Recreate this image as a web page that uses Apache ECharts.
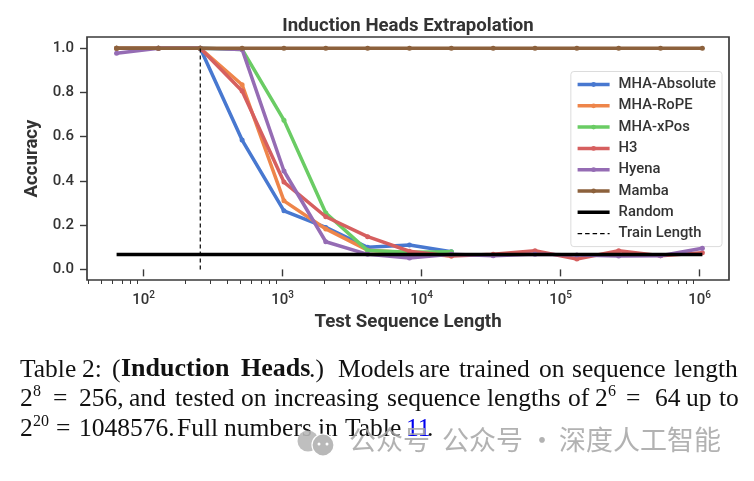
<!DOCTYPE html>
<html><head><meta charset="utf-8">
<style>html,body{margin:0;padding:0;background:#fff}#c{width:754px;height:481px}</style>
<script src="https://cdn.jsdelivr.net/npm/echarts@6/dist/echarts.min.js"></script>
</head><body><div id="c"></div>
<script>
const lengths=[64,128,256,512,1024,2048,4096,8192,16384,32768,65536,131072,262144,524288,1048576];
const mhaAbsolute=[1,1,1,0.585,0.265,0.19,0.1,0.11,0.08];
const mhaRope=[1,1,1,0.835,0.31,0.183,0.087,0.075,0.06];
const mhaXpos=[1,1,1,0.995,0.675,0.255,0.085,0.078,0.08];
const h3=[1,1,1,0.807,0.395,0.238,0.148,0.082,0.06,0.068,0.084,0.047,0.084,0.062,0.075];
const hyena=[0.977,1,1,0.995,0.445,0.125,0.068,0.052,0.068,0.062,0.068,0.065,0.06,0.062,0.096];
const mamba=[1,1,1,1,1,1,1,1,1,1,1,1,1,1,1];
const randomLevel=[0.067,0.067];
const randomX=[64,1048576];
const trainX=[256,256];
const trainY=[0,1];
const xMajor=[100,1000,10000,100000,1000000];
const xMinor=[40,50,60,70,80,90,200,300,400,500,600,700,800,900,2000,3000,4000,5000,6000,7000,8000,9000,20000,30000,40000,50000,60000,70000,80000,90000,200000,300000,400000,500000,600000,700000,800000,900000];
const yTicks=[0,0.2,0.4,0.6,0.8,1.0];
const names=['MHA-Absolute','MHA-RoPE','MHA-xPos','H3','Hyena','Mamba','Random','Train Length'];
const colors=['#4878d0','#ee854a','#6acc64','#d65f5f','#956cb4','#8c613c','#000000','#000000'];
const valueSets=[mhaAbsolute,mhaRope,mhaXpos,h3,hyena,mamba];
const SANS='Roboto, sans-serif', SERIF='"Liberation Serif", serif';
const INK='#333333';

const series=valueSets.map((vals,i)=>({
  name:names[i],type:'line',xAxisIndex:0,yAxisIndex:0,
  data:vals.map((v,j)=>[lengths[j],v]),
  symbol:'circle',symbolSize:5,showSymbol:true,
  lineStyle:{width:3.5,color:colors[i]},itemStyle:{color:colors[i]},
  animation:false,z:3+i,emphasis:{disabled:true}
}));
series.push({name:names[6],type:'line',data:randomX.map((x,j)=>[x,randomLevel[j]]),symbol:'none',
  lineStyle:{width:3.5,color:'#000'},itemStyle:{color:'#000'},animation:false,z:12});
series.push({name:names[7],type:'line',data:trainX.map((x,j)=>[x,trainY[j]]),symbol:'none',
  lineStyle:{width:1.2,color:'#000',type:[4,3]},itemStyle:{color:'#000'},animation:false,z:13});

const legendData=names.map((n,i)=>{
  if(i<6) return {name:n};
  return {name:n,itemStyle:{color:'rgba(0,0,0,0)',opacity:0},
    lineStyle:i===6?{width:3.5,color:'#000'}:{width:1.2,color:'#000',type:[4.5,3]}};
});

const baselines=[377,406,436];
const capWords=[
 ['Table',20,0],['2:',82,0],['(',112,0],['Induction',121,0,'b'],['Heads',241,0,'b'],['.)',309,0],['Models',338,0],['are',419,0],['trained',459,0],['on',539,0],['sequence',572,0],['length',674,0],
 ['2',20,1],['8',33,1,'s'],['=',53,1],['256,',79,1],['and',129,1],['tested',175,1],['on',241,1],['increasing',274,1],['sequence',387,1],['lengths',487,1],['of',568,1],['2',595,1],['6',608,1,'s'],['=',626,1],['64',655,1],['up',686,1],['to',719,1],
 ['2',20,2],['20',33,2,'s'],['=',56,2],['1048576.',79,2],['Full',177,2],['numbers',224,2],['in',318,2],['Table',345,2],['11',406,2,'l'],['.',427,2]
];
const capGraphics=capWords.map(([t,x,l,k])=>{
  const sup=k==='s', size=sup?16:(k==='b'?26:25.5);
  return {type:'text',x,y:baselines[l]-(sup?9:0)-Math.round(size*0.8),z:50,style:{text:t,
    fontFamily:SERIF,fontSize:size,fontWeight:k==='b'?'bold':'normal',
    fill:k==='l'?'#0000ee':'#111'}};
});
const wm=[['公众号',349],['公众号',442],['·',528.5],['深度人工智能',559]].map(([t,x])=>({type:'text',x,y:426,z:62,
  style:{text:t,fontFamily:'"Noto Sans CJK SC"',fontSize:27,fill:'rgba(165,165,165,0.85)'}}));

const option={
  animation:false,backgroundColor:'#fff',
  title:{text:'Induction Heads Extrapolation',left:403,top:12,textAlign:'center',
    textStyle:{fontFamily:SANS,fontSize:18.6,fontWeight:'bold',color:INK}},
  grid:{left:87,right:25,top:37,height:243,show:true,borderColor:'#3a3a3a',borderWidth:1.7,backgroundColor:'#fff'},
  legend:{right:32,top:71.5,orient:'vertical',itemWidth:32,itemHeight:6,itemGap:5.3,padding:[5,6,5,5],itemSymbolKeepAspect:true,
    backgroundColor:'#fff',borderColor:'#dcdcdc',borderWidth:1,borderRadius:3,data:legendData,
    lineStyle:{width:3.5},
    textStyle:{fontFamily:SANS,fontSize:14.8,fontWeight:500,color:INK,lineHeight:16,padding:[0,0,0,4]}},
  xAxis:[{type:'log',logBase:10,min:39.2,max:1630000,name:'Test Sequence Length',nameLocation:'middle',nameGap:31,
    nameTextStyle:{fontFamily:SANS,fontSize:18.7,fontWeight:'bold',color:INK},
    axisLine:{show:false},splitLine:{show:false},
    axisTick:{show:true,length:7,customValues:xMajor,lineStyle:{color:'#3a3a3a',width:1.4}},
    axisLabel:{show:true,customValues:xMajor,margin:10,hideOverlap:false,
      formatter:v=>'{b|10}{s|'+Math.round(Math.log10(v))+'}',
      rich:{b:{fontFamily:SANS,fontSize:15,fontWeight:500,color:INK,lineHeight:18,verticalAlign:'bottom'},
            s:{fontFamily:SANS,fontSize:10,fontWeight:500,color:INK,lineHeight:18,verticalAlign:'top'}}}},
    {type:'log',logBase:10,min:39.2,max:1630000,position:'bottom',axisLine:{show:false},splitLine:{show:false},
    axisLabel:{show:false},
    axisTick:{show:true,length:4,customValues:xMinor,lineStyle:{color:'#3a3a3a',width:1}}}],
  yAxis:{type:'value',min:-0.048,max:1.051,name:'Accuracy',nameLocation:'middle',nameGap:38,
    nameTextStyle:{fontFamily:SANS,fontSize:18.6,fontWeight:'bold',color:INK},
    axisLine:{show:false},splitLine:{show:false},
    axisTick:{show:true,length:7,customValues:yTicks,lineStyle:{color:'#3a3a3a',width:1.4}},
    axisLabel:{customValues:yTicks,margin:13,formatter:v=>v.toFixed(1),
      fontFamily:SANS,fontSize:15,fontWeight:500,color:INK}},
  series,
  graphic:capGraphics.concat([
    {type:'circle',shape:{cx:308,cy:441,r:10.5},z:60,style:{fill:'#b8b8b8',opacity:0.9}},
    {type:'circle',shape:{cx:323,cy:445,r:11},z:61,style:{fill:'#b8b8b8',stroke:'#fff',lineWidth:1.2}},
    {type:'circle',shape:{cx:319,cy:444,r:1.5},z:62,style:{fill:'#fff'}},
    {type:'circle',shape:{cx:327,cy:444,r:1.5},z:62,style:{fill:'#fff'}}
  ],wm)
};
echarts.init(document.getElementById('c'),null,{renderer:'canvas'}).setOption(option);
</script></body></html>
